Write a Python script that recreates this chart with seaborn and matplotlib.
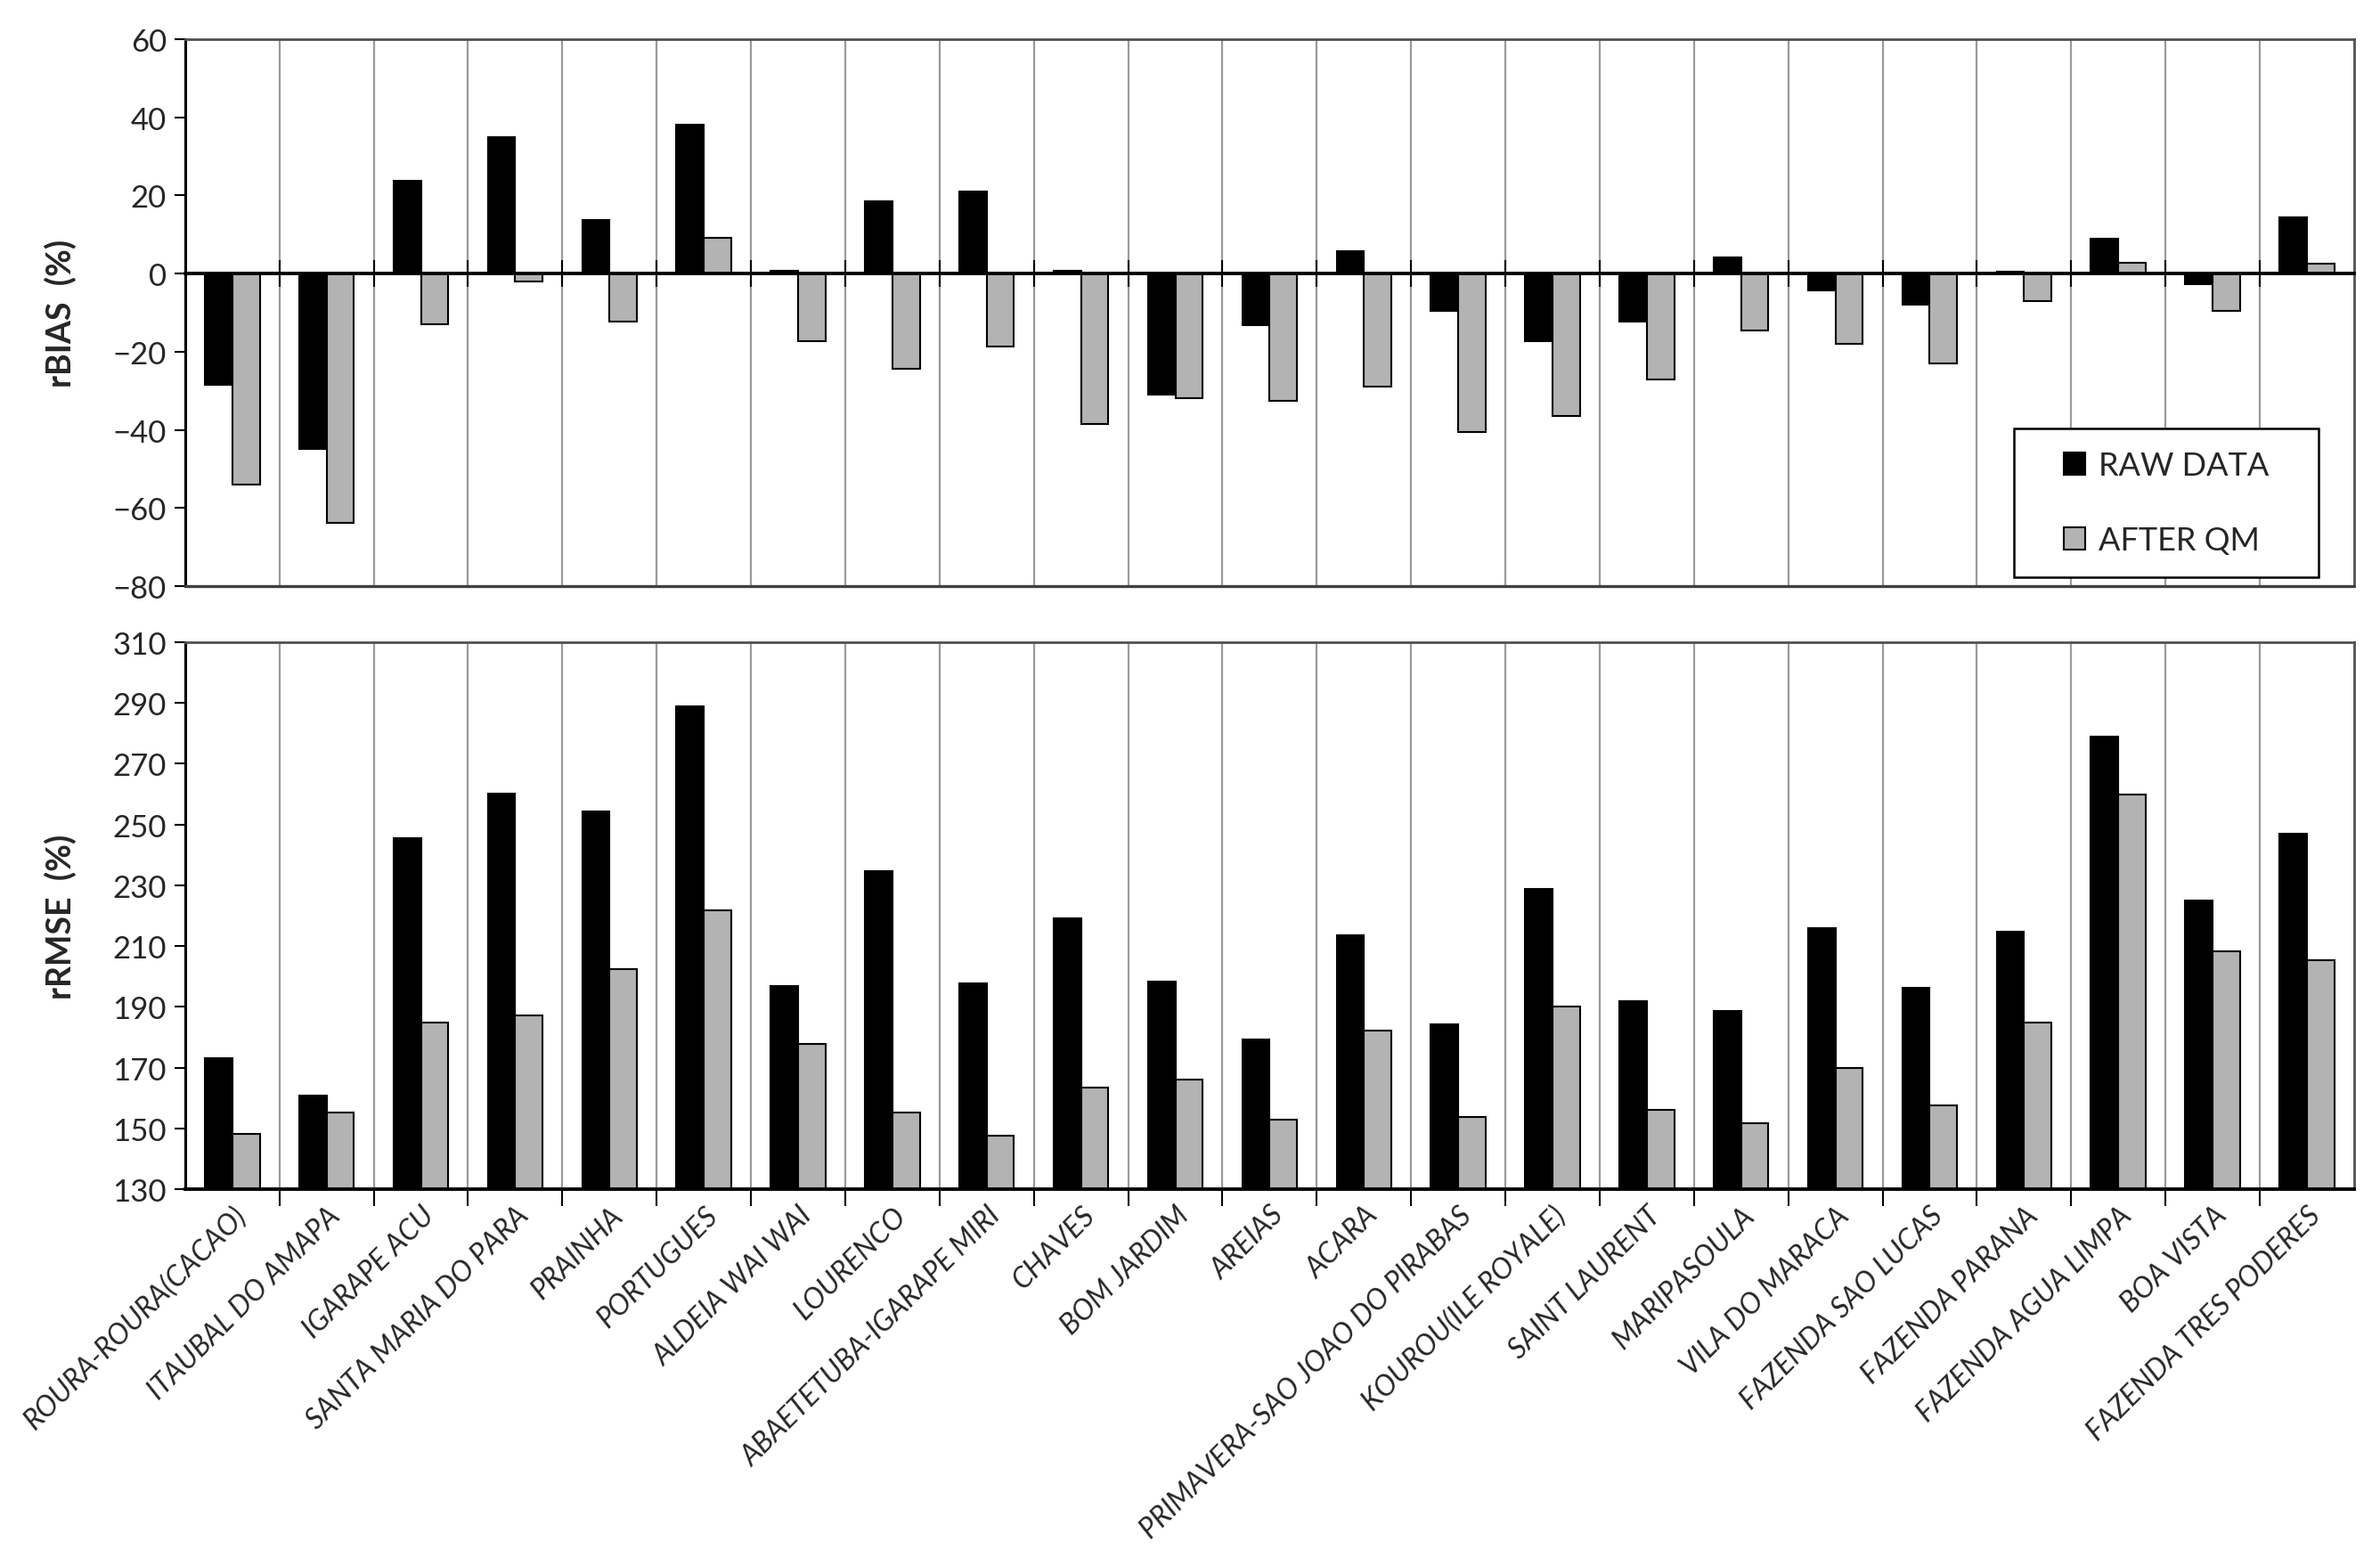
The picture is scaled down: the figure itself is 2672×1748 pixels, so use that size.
import numpy as np
import pandas as pd
import matplotlib
matplotlib.use('Agg')
import matplotlib.pyplot as plt
from matplotlib.path import Path
import seaborn as sns

# ---------------------------------------------------------------------------
# data
# ---------------------------------------------------------------------------
stations = ['ROURA-ROURA(CACAO)', 'ITAUBAL DO AMAPA', 'IGARAPE ACU', 'SANTA MARIA DO PARA',
            'PRAINHA', 'PORTUGUES', 'ALDEIA WAI WAI', 'LOURENCO', 'ABAETETUBA-IGARAPE MIRI',
            'CHAVES', 'BOM JARDIM', 'AREIAS', 'ACARA', 'PRIMAVERA-SAO JOAO DO PIRABAS',
            'KOUROU(ILE ROYALE)', 'SAINT LAURENT', 'MARIPASOULA', 'VILA DO MARACA',
            'FAZENDA SAO LUCAS', 'FAZENDA PARANA', 'FAZENDA AGUA LIMPA', 'BOA VISTA',
            'FAZENDA TRES PODERES']

rbias_raw = [-28.4, -44.9, 23.8, 34.9, 13.7, 38.1, 0.7, 18.6, 20.9, 0.8, -30.9, -13.2,
             5.8, -9.5, -17.4, -12.3, 4.1, -4.3, -8.0, 0.5, 9.0, -2.6, 14.3]
rbias_qm = [-54.0, -63.7, -12.9, -2.0, -12.2, 9.1, -17.4, -24.4, -18.6, -38.6, -32.0, -32.5,
            -29.0, -40.6, -36.4, -27.1, -14.5, -17.9, -23.0, -7.0, 2.7, -9.5, 2.6]

rrmse_raw = [173.0, 160.9, 245.5, 260.2, 254.2, 289.0, 196.8, 234.8, 197.6, 219.0, 198.4,
             179.3, 213.6, 184.1, 228.9, 191.9, 188.7, 215.9, 196.2, 214.8, 278.8, 225.1, 247.1]
rrmse_qm = [148.3, 155.1, 184.7, 187.3, 202.3, 221.8, 177.9, 155.3, 147.6, 163.4, 166.0,
            153.0, 182.1, 153.8, 190.0, 156.0, 151.6, 170.0, 157.6, 184.7, 259.8, 208.4, 205.4]

series_names = ['RAW DATA', 'AFTER QM']
series_colors = ['black', '#b3b3b3']


def long_table(raw, qm):
    return pd.DataFrame({
        'Station': stations + stations,
        'Series': [series_names[0]] * len(stations) + [series_names[1]] * len(stations),
        'Value': raw + qm,
    })


bias_df = long_table(rbias_raw, rbias_qm)
rmse_df = long_table(rrmse_raw, rrmse_qm)


# legend frame with more room left/right than top/bottom (Excel style box)
def wide_box(x0, y0, width, height, mutation_size):
    px = 0.85 * mutation_size
    return Path([(x0 - px, y0), (x0 + width + px, y0), (x0 + width + px, y0 + height),
                 (x0 - px, y0 + height), (x0 - px, y0)], closed=True)


# ---------------------------------------------------------------------------
# plotting
# ---------------------------------------------------------------------------
sns.set_style('white')
plt.rcParams['font.family'] = ['Lato', 'DejaVu Sans']

fig = plt.figure(figsize=(26.72, 17.49), dpi=100)
ax1 = fig.add_axes([0.0778, 0.6232, 0.9113, 0.3511])
ax2 = fig.add_axes([0.0778, 0.2361, 0.9113, 0.3511])

palette = dict(zip(series_names, series_colors))
for ax, df in [(ax1, bias_df), (ax2, rmse_df)]:
    sns.barplot(data=df, x='Station', y='Value', hue='Series', palette=palette,
                saturation=1, width=0.58, edgecolor='black', linewidth=1.5, ax=ax)

n = len(stations)
bounds = np.arange(n - 1) + 0.5

for ax in (ax1, ax2):
    ax.set_xlim(-0.5, n - 0.5)
    ax.set_xticks(bounds, minor=True)
    ax.grid(which='minor', axis='x', color='#9a9a9a', linewidth=1.6)
    ax.grid(which='major', visible=False)
    ax.set_axisbelow(True)
    ax.set_xlabel('')
    ax.tick_params(axis='x', which='major', length=0)
    ax.tick_params(axis='y', which='major', direction='out', length=9, width=1.5,
                   color='black', labelsize=25, left=True, pad=6)
    for side in ['top', 'right']:
        ax.spines[side].set_color('#505050')
        ax.spines[side].set_linewidth(2)
    ax.spines['left'].set_color('black')
    ax.spines['left'].set_linewidth(2.2)
    ax.spines['bottom'].set_color('black')
    ax.spines['bottom'].set_linewidth(2.8)

# top panel: rBIAS
ax1.set_ylim(-80, 60)
ax1.set_yticks(range(-80, 61, 20))
ax1.set_xticklabels([])
ax1.spines['bottom'].set_position(('data', 0))
ax1.axhline(-80, color='#404040', linewidth=2.4, clip_on=False, zorder=5)
ax1.tick_params(axis='x', which='minor', direction='inout', length=22, width=1.5,
                color='black', bottom=True)
ax1.set_ylabel('rBIAS  (%)', fontsize=27, fontweight='bold')
ax1.yaxis.set_label_coords(-0.050, 0.5)

handles, labels = ax1.get_legend_handles_labels()
leg = ax1.legend(handles, labels, loc='lower right', bbox_to_anchor=(0.971, 0.016),
                 borderaxespad=0, fontsize=26, frameon=True, fancybox=False, framealpha=1,
                 edgecolor='black', handlelength=0.67, handleheight=0.67,
                 handletextpad=0.4, labelspacing=1.4, borderpad=0.7)
leg.get_frame().set_linewidth(1.8)
leg.get_frame().set_boxstyle(wide_box)
for h in leg.legend_handles:
    h.set_edgecolor('black')
    h.set_linewidth(1.5)

# bottom panel: rRMSE
ax2.set_ylim(130, 310)
ax2.set_yticks(range(130, 311, 20))
ax2.get_legend().remove()
ax2.tick_params(axis='x', which='minor', direction='out', length=14, width=1.5,
                color='black', bottom=True)
ax2.set_xticks(range(n))
ax2.set_xticklabels(stations, rotation=45, ha='right', rotation_mode='anchor',
                    fontsize=23, fontstyle='italic')
ax2.tick_params(axis='x', which='major', pad=10)
ax2.set_ylabel('rRMSE  (%)', fontsize=27, fontweight='bold')
ax2.yaxis.set_label_coords(-0.050, 0.5)

fig.savefig('out.png', dpi=100, facecolor='white')
